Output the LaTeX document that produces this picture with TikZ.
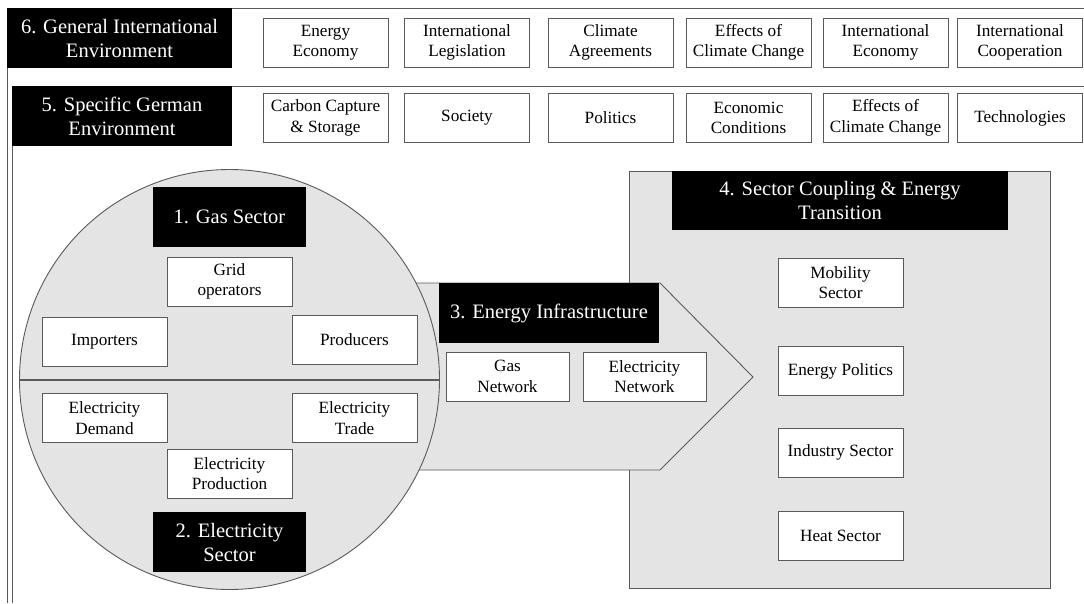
\documentclass[tikz,border=0pt]{standalone}
\usepackage{fontspec}
\setmainfont{Liberation Serif}
\definecolor{fillgray}{HTML}{E4E4E4}
\definecolor{linegray}{HTML}{5A5A5A}
\tikzset{
  itembox/.style={draw=linegray, line width=0.9pt, fill=white, minimum width=125pt, minimum height=49pt, align=center, inner sep=0pt, font=\fontsize{17.2}{20.5}\selectfont},
  headbox/.style={fill=black, text=white, align=center, inner sep=0pt, font=\fontsize{20.5}{24}\selectfont},
  frameline/.style={draw=linegray, line width=1pt},
}
\begin{document}
\begin{tikzpicture}[x=1pt,y=-1pt]
\useasboundingbox (0,0) rectangle (1084,603);
% frames
\coordinate (f6a) at (7,603); \coordinate (f6b) at (7,8); \coordinate (f6c) at (1084,8);
\coordinate (f5a) at (12,603); \coordinate (f5b) at (12,86); \coordinate (f5c) at (1084,86);
\draw[frameline] (f6a) -- (f6b) -- (f6c);
\draw[frameline] (f5a) -- (f5b) -- (f5c);
\node[headbox, minimum width=225pt, minimum height=60pt] (h6) at (119.5,38) {6. General International\\Environment};
\node[headbox, minimum width=220pt, minimum height=60pt] (h5) at (122,116) {5. Specific German\\Environment};
% row 6
\node[itembox] (a1) at (325.5,42.5) {Energy\\Economy};
\node[itembox] (a2) at (467,42.5) {International\\Legislation};
\node[itembox] (a3) at (610.5,42.5) {Climate\\Agreements};
\node[itembox] (a4) at (748.5,42.5) {Effects of\\Climate Change};
\node[itembox] (a5) at (885.5,42.5) {International\\Economy};
\node[itembox] (a6) at (1020,42.5) {International\\Cooperation};
% row 5
\node[itembox] (b1) at (325.5,118) {Carbon Capture\\\&~Storage};
\node[itembox] (b2) at (467,118) {Society};
\node[itembox] (b3) at (610.5,118) {Politics};
\node[itembox] (b4) at (748.5,118) {Economic\\Conditions};
\node[itembox] (b5) at (885.5,118) {Effects of\\Climate Change};
\node[itembox] (b6) at (1020,118) {Technologies};
% sector coupling box
\coordinate (r1) at (629,171); \coordinate (r2) at (1050,588);
\draw[draw=linegray, line width=0.9pt, fill=fillgray] (r1) rectangle (r2);
\node[headbox, minimum width=336pt, minimum height=59pt] (h4) at (840,200.5) {4. Sector Coupling \& Energy\\Transition};
% arrow
\coordinate (p1) at (380,283); \coordinate (p2) at (660,283); \coordinate (p3) at (753,377);
\coordinate (p4) at (660,470); \coordinate (p5) at (380,470);
\draw[draw=linegray, line width=0.9pt, fill=fillgray] (p1) -- (p2) -- (p3) -- (p4) -- (p5) -- cycle;
% circle
\coordinate (cc) at (229.5,379.5);
\draw[draw=linegray, line width=0.9pt, fill=fillgray] (cc) circle[radius=210];
\coordinate (cl) at (19.5,380); \coordinate (cr) at (439.5,380);
\draw[draw=linegray, line width=1.1pt] (cl) -- (cr);
% right box items
\node[itembox] (m1) at (840.5,282.5) {Mobility\\Sector};
\node[itembox] (m2) at (840.5,371) {Energy Politics};
\node[itembox] (m3) at (840.5,452.5) {Industry Sector};
\node[itembox] (m4) at (840.5,535.5) {Heat Sector};
% arrow items
\node[headbox, minimum width=220pt, minimum height=60pt] (h3) at (549,313) {3. Energy Infrastructure};
\node[itembox, minimum width=123pt] (n1) at (507.5,376.5) {Gas\\Network};
\node[itembox, minimum width=123pt] (n2) at (644.5,376.5) {Electricity\\Network};
% circle items
\node[headbox, minimum width=153pt, minimum height=60pt] (h1) at (229.5,217) {1. Gas Sector};
\node[itembox] (g1) at (229.5,281.5) {Grid\\operators};
\node[itembox] (g2) at (104.5,342) {Importers};
\node[itembox] (g3) at (354.5,340) {Producers};
\node[itembox] (e1) at (104.5,418) {Electricity\\Demand};
\node[itembox] (e2) at (354.5,418) {Electricity\\Trade};
\node[itembox] (e3) at (229.5,473.5) {Electricity\\Production};
\node[headbox, minimum width=153pt, minimum height=60pt] (h2) at (229.5,542) {2. Electricity\\Sector};
\end{tikzpicture}
\end{document}
